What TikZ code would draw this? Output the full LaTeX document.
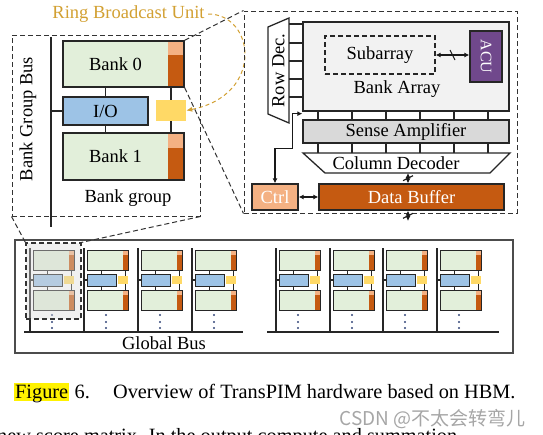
\documentclass[tikz,border=0pt]{standalone}
\usepackage{graphicx}
\usepackage{fontspec}
\setmainfont{Liberation Serif}
\newfontfamily\cjkfont{Noto Sans CJK SC}
\usetikzlibrary{arrows.meta, decorations.markings}
\definecolor{bankgreen}{RGB}{226, 239, 218}
\definecolor{ioblue}{RGB}{157, 195, 230}
\definecolor{striplight}{RGB}{244, 177, 131}
\definecolor{stripdark}{RGB}{197, 90, 17}
\definecolor{rbuyellow}{RGB}{255, 217, 102}
\definecolor{acupurple}{RGB}{112, 72, 140}
\definecolor{ringgold}{RGB}{210, 160, 50}
\definecolor{dotblue}{RGB}{50, 70, 120}
\newcommand{\figfont}{\fontsize{18.5pt}{22pt}\selectfont}
\newcommand{\capfont}{\fontsize{20.3pt}{24pt}\selectfont}

\begin{document}
\begin{tikzpicture}[x=1pt, y=-1pt, font=\figfont,
    box/.style={rectangle, draw=black!85, line width=1.3pt, inner sep=0pt},
    region/.style={rectangle, draw=black!80, dash pattern=on 5pt off 3pt, line width=1pt, inner sep=0pt},
    bank/.style 2 args={box, fill=bankgreen, path picture={
        \fill[stripdark] ([xshift=-#1]path picture bounding box.north east) rectangle (path picture bounding box.south east);
        \fill[striplight] ([xshift=-#1]path picture bounding box.north east) rectangle ([yshift=-#2]path picture bounding box.north east);}},
    minibank/.style={bank={5.5pt}{5pt}, line width=1pt, minimum width=41pt, minimum height=20pt},
    wire/.style={line width=1.1pt, black!85},
    zoomline/.style={dash pattern=on 5pt off 3pt, line width=1pt, black!80},
    link/.style={{Latex[length=5pt, width=5pt]}-{Latex[length=5pt, width=5pt]}, line width=1.1pt, black!90},
    buswidth/.style={link, postaction={decorate}, decoration={markings,
        mark=at position 0.5 with {\draw[-, line width=1.1pt] (-2.5pt, 5pt) -- (2.5pt, -5pt);}}}]

    \useasboundingbox (0, 0) rectangle (543, 434);

    \node[region, minimum width=188pt, minimum height=181pt] (bgbox) at (106, 125.5) {};
    \node[bank={16pt}{14pt}, minimum width=121pt, minimum height=46pt] (bank0) at (123.5, 64) {Bank 0\hspace*{16pt}};
    \node[box, fill=ioblue, minimum width=85pt, minimum height=28pt] (io) at (105.5, 111) {I/O};
    \node[bank={16pt}{15pt}, minimum width=121pt, minimum height=47pt] (bank1) at (123.5, 156.5) {Bank 1\hspace*{16pt}};
    \node[fill=rbuyellow, inner sep=0pt, minimum width=30pt, minimum height=21pt] (rbu) at (171, 110.5) {};

    \coordinate (bgbus) at (51, 37);
    \coordinate (bgbusend) at (51, 227);
    \draw[wire, line width=1.3pt] (bgbus) -- (bgbusend);
    \node[rotate=90] (bgbuslbl) at (28, 119) {Bank Group Bus};
    \node (bglbl) at (128, 198) {Bank group};
    \draw[wire] (bgbus |- io) -- (io.west);
    \draw[wire] (io.north) -- (io.north |- bank0.south);
    \draw[wire] (io.south) -- (io.south |- bank1.north);
    \draw[wire] (rbu.north |- bank0.south) -- (rbu.north);
    \draw[wire] (rbu.south) -- (rbu.south |- bank1.north);

    \node[text=ringgold] (rbulbl) at (128.5, 14) {Ring Broadcast Unit};
    \draw[ringgold, dash pattern=on 4pt off 3pt, line width=1pt, -{Latex[length=6pt, width=5pt]}] (rbulbl.east) .. controls (255, 14) and (265, 95) .. (rbu.east);

    \node[region, minimum width=273pt, minimum height=202pt] (bankbox) at (380.5, 112) {};
    \draw[line width=1.3pt, black!85, fill=white] (268, 27) -- (289, 18) -- (289, 123) coordinate (rdse) -- (268, 114) -- cycle;
    \node[rotate=90] (rowdec) at (278.5, 70.5) {Row Dec.};
    \node[box, fill=black!5, minimum width=206pt, minimum height=89pt] (bankarr) at (406, 66.5) {};
    \node (bankarrlbl) at (397, 89) {Bank Array};
    \foreach \y in {24, 43, 61, 79, 97}
        \draw[wire] (rdse |- 0,\y) -- (bankarr.west |- 0,\y);
    \node[box, dash pattern=on 5pt off 3pt, minimum width=110pt, minimum height=38pt] (subarr) at (380, 55) {Subarray};
    \node[box, fill=acupurple, text=white, minimum width=32pt, minimum height=51pt] (acu) at (486, 56.5) {\fontsize{16pt}{18pt}\selectfont\rotatebox{-90}{ACU}};
    \draw[buswidth] (subarr.east) -- (subarr.east -| acu.west);

    \node[box, fill=black!15, minimum width=206pt, minimum height=23pt] (senseamp) at (406, 131.5) {Sense Amplifier};
    \draw[line width=1.3pt, black!85, fill=white] (303, 153) coordinate (cdtop) -- (510, 153) -- (490, 173) -- (325, 173) -- cycle;
    \node (coldec) at (396, 163) {Column Decoder};
    \coordinate (cdbot) at (408, 173);
    \foreach \x in {318, 352, 386, 420, 454, 488} {
        \draw[wire] (bankarr.south -| \x,0) -- (senseamp.north -| \x,0);
        \draw[wire] (senseamp.south -| \x,0) -- (cdtop -| \x,0);
    }

    \node[box, fill=striplight, text=white, minimum width=46pt, minimum height=26pt] (ctrl) at (275, 197) {Ctrl};
    \node[box, fill=stripdark, text=white, minimum width=185pt, minimum height=26pt] (databuf) at (411.5, 197) {Data Buffer};
    \coordinate (extbus) at (408, 221);
    \draw[link] (ctrl) -- (databuf);
    \draw[buswidth] (cdbot) -- (cdbot |- databuf.north);
    \draw[buswidth] (databuf.south -| extbus) -- (extbus);
    \draw[link] (ctrl.north) -- ++(0, -35) -| ([xshift=-10pt, yshift=-2pt]bankarr.south west) -- ([yshift=-2pt]bankarr.south west);

    \node[box, draw=black!70, minimum width=498pt, minimum height=113pt] (chip) at (264, 296.5) {};
    \coordinate (gbA) at (24, 332);
    \coordinate (gbB) at (243, 332);
    \coordinate (gbC) at (267, 332);
    \coordinate (gbD) at (499, 332);
    \draw[line width=2.5pt, black!85] (gbA) -- (gbB);
    \draw[line width=2.5pt, black!85] (gbC) -- (gbD);
    \node (gblbl) at (164, 343) {Global Bus};

    \foreach \i/\x in {1/30, 2/84, 3/138, 4/192, 5/276, 6/330, 7/383, 8/437} {
        \node[minibank] (ub0\i) at (\x+23.5, 260) {};
        \node[box, line width=1pt, fill=ioblue, minimum width=29pt, minimum height=12pt] (uio\i) at (\x+17.5, 280) {};
        \node[minibank] (ub1\i) at (\x+23.5, 300) {};
        \node[fill=rbuyellow, inner sep=0pt, minimum width=10pt, minimum height=8pt] (urb\i) at (\x+39, 280) {};
        \coordinate (ubus\i) at (\x, 248);
        \draw[wire] (ubus\i) -- (ubus\i |- gbA);
        \draw[wire] (ubus\i |- uio\i) -- (uio\i.west);
        \draw[wire, line width=0.8pt] (uio\i.north) -- (uio\i.north |- ub0\i.south);
        \draw[wire, line width=0.8pt] (uio\i.south) -- (uio\i.south |- ub1\i.north);
        \draw[wire, line width=0.8pt] ([xshift=2pt]urb\i.north |- ub0\i.south) -- ([xshift=2pt]urb\i.north);
        \draw[wire, line width=0.8pt] ([xshift=2pt]urb\i.south) -- ([xshift=2pt]urb\i.south |- ub1\i.north);
        \foreach \y in {315, 322, 328}
            \fill[dotblue] (\x+22, \y) circle (1.2);
    }
    \node[region, line width=1.2pt, fill=black!15, fill opacity=0.4, minimum width=55pt, minimum height=76pt] (selbox) at (53.5, 281) {};

    \draw[zoomline] (bank0.north east) -- (bankbox.north west);
    \draw[zoomline] (bank0.south east) -- (bankbox.south west);
    \draw[zoomline] (bgbox.south west) -- (selbox.north west);
    \draw[zoomline] (bgbox.south east) -- (selbox.north east);

    \node[fill=yellow, inner xsep=1pt, inner ysep=0pt, text height=15pt, text depth=3pt, anchor=base west, font=\capfont] (figword) at (14, 398) {Figure};
    \node[anchor=base west, inner xsep=0pt, font=\capfont] (captext) at ([xshift=5pt]figword.base east) {6.\hspace{1.15em}Overview of TransPIM hardware based on HBM.};
    \node[anchor=west, text=black!35, font=\cjkfont\fontsize{19pt}{22pt}\selectfont] (wmark) at (336, 419) {CSDN @不太会转弯儿};
    \node[anchor=base west, inner sep=0pt, font=\capfont] (nextline) at (-3, 442) {new score matrix. In the output compute and summation};
\end{tikzpicture}
\end{document}
